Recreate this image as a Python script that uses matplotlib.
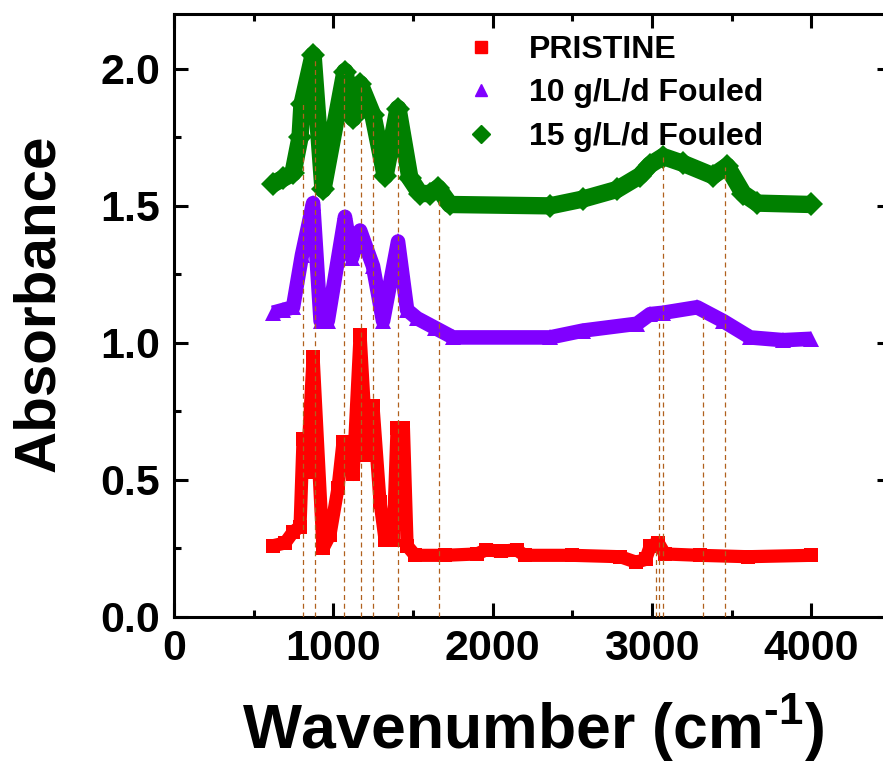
import matplotlib
matplotlib.use("Agg")
import matplotlib.pyplot as plt
from matplotlib.lines import Line2D
from matplotlib.ticker import MultipleLocator, FormatStrFormatter

plt.rcParams['font.family'] = ['Liberation Sans', 'DejaVu Sans']
plt.rcParams['font.weight'] = 'bold'
plt.rcParams['mathtext.fontset'] = 'custom'
plt.rcParams['mathtext.rm'] = 'Liberation Sans:bold'
plt.rcParams['mathtext.bf'] = 'Liberation Sans:bold'
plt.rcParams['mathtext.it'] = 'Liberation Sans:bold'

# spectra (wavenumber cm-1, absorbance)
pristine_x = [621, 697, 747, 791, 810, 835, 873, 935, 979, 1029, 1061, 1098, 1124, 1168,
              1211, 1249, 1293, 1325, 1375, 1400, 1440, 1463, 1513, 1700, 1900, 1960, 2050,
              2150, 2200, 2500, 2800, 2900, 2960, 2990, 3040, 3080, 3300, 3600, 4000]
pristine_y = [0.26, 0.27, 0.31, 0.33, 0.65, 0.53, 0.95, 0.25, 0.30, 0.47, 0.64, 0.64, 0.52, 1.03,
              0.59, 0.77, 0.42, 0.28, 0.28, 0.69, 0.69, 0.26, 0.225, 0.225, 0.23, 0.245, 0.24,
              0.245, 0.225, 0.225, 0.22, 0.20, 0.21, 0.26, 0.27, 0.23, 0.225, 0.22, 0.225]

fouled10_x = [621, 684, 747, 803, 873, 920, 965, 1073, 1117, 1168, 1249, 1312, 1406, 1463,
              1525, 1638, 1751, 2360, 2567, 2906, 2988, 3070, 3283, 3446, 3616, 3823, 4000]
fouled10_y = [1.11, 1.12, 1.13, 1.32, 1.51, 1.08, 1.08, 1.46, 1.31, 1.41, 1.28, 1.08, 1.37, 1.12,
              1.09, 1.055, 1.02, 1.02, 1.045, 1.07, 1.105, 1.11, 1.13, 1.08, 1.02, 1.01, 1.015]

fouled15_x = [621, 684, 747, 791, 803, 873, 935, 1073, 1124, 1168, 1249, 1325, 1406, 1481,
              1544, 1607, 1657, 1732, 2360, 2567, 2781, 2925, 2988, 3070, 3195, 3383, 3471,
              3572, 3660, 4000]
fouled15_y = [1.58, 1.60, 1.62, 1.75, 1.87, 2.05, 1.56, 1.99, 1.82, 1.945, 1.83, 1.61, 1.855, 1.60,
              1.545, 1.545, 1.565, 1.505, 1.50, 1.525, 1.56, 1.61, 1.65, 1.68, 1.655, 1.61, 1.645,
              1.545, 1.51, 1.505]

# dashed peak markers: position and top
peak_x = [810, 885, 1067, 1174, 1249, 1406, 1663, 3026, 3045, 3070, 3321, 3459]
peak_top = [1.88, 2.04, 1.98, 1.94, 1.83, 1.83, 1.53, 0.25, 1.09, 1.68, 1.10, 1.64]

labels = ["PRISTINE", "10 g/L/d Fouled", "15 g/L/d Fouled"]
colors = ["#ff0000", "#8000ff", "#008000"]
markers = ["s", "^", "D"]

fig = plt.figure(figsize=(8.83, 7.65), dpi=100)
ax = fig.add_axes([174 / 883, 148 / 765, 717 / 883, 603 / 765])

series = [(pristine_x, pristine_y), (fouled10_x, fouled10_y), (fouled15_x, fouled15_y)]
widths = [9.5, 10.5, 12.5]
msizes = [9.5, 12, 12.5]
for (xs, ys), c, m, lw, ms in zip(series, colors, markers, widths, msizes):
    ax.plot(xs, ys, color=c, lw=lw, solid_joinstyle='round', solid_capstyle='butt',
            marker=m, markersize=ms, markeredgewidth=0, zorder=2)

for px, top in zip(peak_x, peak_top):
    ax.plot([px, px], [0, top], color="#b0601e", lw=0.9, dashes=(4, 3), zorder=3)

ax.set_xlim(0, 4500)
ax.set_ylim(0, 2.2)
ax.xaxis.set_major_locator(MultipleLocator(1000))
ax.xaxis.set_minor_locator(MultipleLocator(500))
ax.yaxis.set_major_locator(MultipleLocator(0.5))
ax.yaxis.set_minor_locator(MultipleLocator(0.25))
ax.yaxis.set_major_formatter(FormatStrFormatter('%.1f'))
ax.tick_params(which='both', direction='in', top=True, right=True, width=2.2,
               labelsize=31)
ax.tick_params(which='major', length=10)
ax.tick_params(which='minor', length=5)
ax.tick_params(axis='x', pad=9)
ax.tick_params(axis='y', pad=10)
for sp in ax.spines.values():
    sp.set_linewidth(2.2)

ax.set_xlabel(r"Wavenumber (cm$^{\text{-1}}$)", fontsize=45, fontweight='bold', labelpad=16)
ax.set_ylabel("Absorbance", fontsize=42, fontweight='bold')
ax.yaxis.set_label_coords(-0.15, 0.52)

handles = [Line2D([], [], ls='none', marker=m, color=c, markersize=9)
           for m, c in zip(markers, colors)]
fig.legend(handles, labels, loc='upper left', bbox_to_anchor=(462 / 883, 1 - 35 / 765),
           frameon=False, fontsize=23, handlelength=1.2, handletextpad=0.9,
           labelspacing=0.42, borderpad=0, borderaxespad=0)

fig.savefig("out.png", dpi=100)
